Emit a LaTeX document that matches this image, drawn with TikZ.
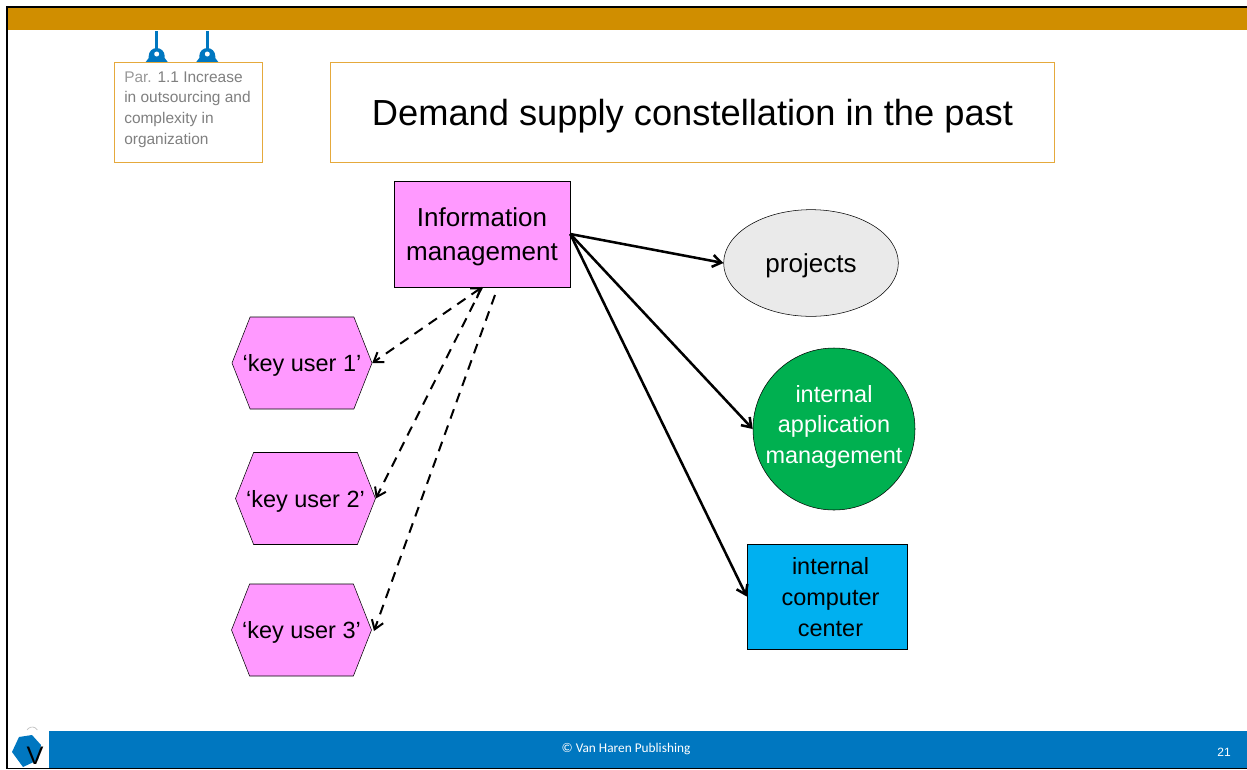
\documentclass[tikz,border=0pt]{standalone}
\usepackage{fontspec}
\setmainfont{Liberation Sans}
\newfontfamily\footfont{Carlito}
\usepackage{xcolor}
\usetikzlibrary{arrows.meta}
\usetikzlibrary{shapes.geometric, shapes.symbols}
\definecolor{barorange}{HTML}{D08E00}
\definecolor{boxorange}{HTML}{E5A93C}
\definecolor{barblue}{HTML}{0077C0}
\definecolor{hexpink}{HTML}{FF99FF}
\definecolor{ovalgrey}{HTML}{EAEAEA}
\definecolor{circgreen}{HTML}{00B050}
\definecolor{rectblue}{HTML}{00B0F0}
\begin{document}
\begin{tikzpicture}[x=0.75pt, y=-0.75pt, >={Straight Barb[length=6.5pt, width=9pt]},
    main/.style = {draw, font=\fontsize{19.5}{25.5}\selectfont, align=center, inner sep=0pt, text depth=0pt},
    small/.style = {font=\fontsize{17.6}{23}\selectfont, align=center, inner sep=0pt},
    keyuser/.style = {draw, signal, signal to=east and west, signal pointer angle=137, fill=hexpink, font=\fontsize{17.6}{23}\selectfont, inner xsep=-6pt, inner ysep=0pt, text depth=0pt, minimum width=105pt, minimum height=69pt},
    solidedge/.style = {->, line width=1.9pt},
    dashedge/.style = {line width=1.5pt, dash pattern=on 7.5pt off 5.5pt},
    titlebox/.style = {draw=boxorange, fill=white, line width=0.6pt}]
	\useasboundingbox (0,0) rectangle (1247,769);
	% frame and bars
	\fill[barorange] (7,8) rectangle (1247,30);
	\fill[barblue] (49,731) rectangle (1247,768);
	\draw[line width=2pt] (1247,7) -- (7,7) -- (7,769);
	\draw[line width=0.5pt] (7,768.5) -- (1247,768.5);
	\node[text=white, font=\footfont\fontsize{10}{12}\selectfont] (footer) at (626,749) {© Van Haren Publishing};
	\node[text=white, font=\fontsize{9}{11}\selectfont] (pagenr) at (1224,752) {21};
	% logo
	\fill[barblue] (19,737) -- (32,735) -- (41,745) -- (38,760) -- (23,767) -- (12,752) -- cycle;
	\node[font=\fontsize{19}{19}\selectfont, inner sep=0pt] (logo) at (35,756) {V};
	\draw[black!25, line width=0.5pt] (27,730) arc (-150:-30:6);
	% rings
	\fill[white] (110,29.5) rectangle (263,62);
	\foreach \i in {156.7,207.3} {
		\draw[barblue, line width=2.4pt] (\i,31) -- (\i,50);
		\fill[barblue] (\i-11,62) -- (\i-8,58) -- (\i-8,56) arc (-180:0:8) -- (\i+8,58) -- (\i+11,62) -- cycle;
		\fill[white] (\i,54) circle (2.5);
	}
	% header boxes
	\node[titlebox, minimum width=111pt, minimum height=75pt, inner sep=0pt] (par) at (188,112) {};
	\node[text=black!50, font=\fontsize{11.6}{15.4}\selectfont, align=left, anchor=north west, inner sep=0pt] (partext) at (124,71.5) {\textcolor{black!40}{Par.} 1.1 Increase\\in outsourcing and\\complexity in\\organization};
	\node[titlebox, minimum width=543pt, minimum height=75pt, text depth=0pt, font=\fontsize{27.2}{32}\selectfont] (title) at (692.5,112) {Demand supply constellation in the past};
	% nodes
	\node[main, fill=hexpink, minimum width=132pt, minimum height=79.5pt] (IM) at (482,234) {Information\\management};
	\node[main, ellipse, fill=ovalgrey, minimum width=131pt, minimum height=80pt] (PR) at (811,263) {projects};
	\node[draw, circle, small, fill=circgreen, text=white, inner sep=-8pt, text depth=6.8pt, minimum size=121.5pt] (IA) at (834,429) {internal\\application\\management};
	\node[draw, fill=rectblue, minimum width=120pt, minimum height=78.5pt] (CC) at (827,596.5) {};
	\node[small] (CCtext) at (830.5,597) {internal\\computer\\center};
	\foreach \i\x\y\k in {K1/302/363/1, K2/305.5/498.5/2, K3/301.5/630/3} {
		\node[keyuser] (\i) at (\x,\y) {‘key user \k’};
	}
	\coordinate (K3start) at (495,295);
	\coordinate (K3end) at (374,631);
	% connectors
	\foreach \j in {PR, IA, CC} {
		\draw[solidedge] (IM.east) -- (\j.west);
	}
	\draw[dashedge, <->] (IM.south) -- (K1.east);
	\draw[dashedge, ->] (IM.south) -- (K2.east);
	\draw[dashedge, ->] (K3start) -- (K3end);
\end{tikzpicture}
\end{document}
